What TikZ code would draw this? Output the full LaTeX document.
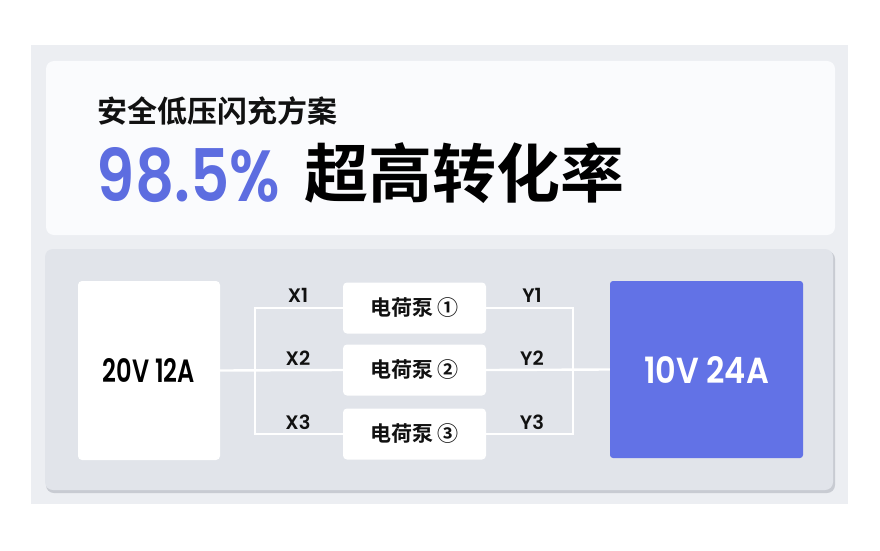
\documentclass[tikz,border=0pt]{standalone}
\usepackage{fontspec}
\setmainfont{Poppins}
\newfontfamily\cjk{Noto Sans CJK SC}[BoldFont={Noto Sans CJK SC Bold}]
\newfontfamily\popm{Poppins Medium}
\newfontfamily\popsb{Poppins SemiBold}
\definecolor{outerbg}{HTML}{ECEEF2}
\definecolor{cardbg}{HTML}{FAFBFD}
\definecolor{panelbg}{HTML}{E1E4EA}
\definecolor{panelsh}{HTML}{C8CBD2}
\definecolor{accent}{HTML}{6272E6}
\definecolor{accenttxt}{HTML}{5D6DE0}
\definecolor{ink}{HTML}{111111}
\tikzset{
  whitebox/.style={fill=white, rounded corners=4pt, draw=none, inner sep=0pt},
  pumpbox/.style={whitebox, minimum width=143pt, minimum height=51pt, font={\cjk\bfseries\fontsize{21}{22}\selectfont}, text=ink},
  wire/.style={draw=white, line width=2.4pt},
  lbl/.style={inner sep=0pt, text=ink, font={\popsb\fontsize{19.5}{20}\selectfont}}
}
\begin{document}
\begin{tikzpicture}[x=1pt,y=-1pt]
\useasboundingbox (0,0) rectangle (880,551);
\fill[white] (0,0) rectangle (880,551);
% outer grey
\fill[outerbg] (31,45) rectangle (848,504);
% top card
\fill[cardbg, rounded corners=8pt] (46,61) rectangle (835,235);
% bottom panel with shadow
\fill[panelsh, rounded corners=8pt] (46,251) rectangle (835,493);
\fill[panelbg, rounded corners=8pt] (45,249) rectangle (833,490);

% heading texts
\node[anchor=base west, inner sep=0pt, text=ink, font={\cjk\bfseries\fontsize{30}{32}\selectfont}] (sub) at (97,122) {安全低压闪充方案};
\node[inner sep=0pt, text=accenttxt] (pct) at (188.5,175) {\resizebox{183pt}{54pt}{\popsb 98.5\%}};
\node[anchor=base west, inner sep=0pt, text=black, font={\cjk\bfseries\fontsize{64}{66}\selectfont}] (hl) at (304,197) {超高转化率};

% boxes
\node[whitebox, minimum width=142pt, minimum height=179pt] (src) at (149,370.5) {\resizebox{92pt}{24pt}{\popsb 20V 12A}};
\node[fill=accent, rounded corners=3pt, inner sep=0pt, minimum width=193pt, minimum height=177pt, text=white] (dst) at (706.5,369.5) {\resizebox{125pt}{27pt}{\popsb 10V 24A}};
\node[pumpbox] (p1) at (414.5,308) {电荷泵 ①};
\node[pumpbox] (p2) at (414.5,370) {电荷泵 ②};
\node[pumpbox] (p3) at (414.5,434) {电荷泵 ③};

% wires
\coordinate (L1) at (255,308);
\coordinate (L3) at (255,434);
\coordinate (R1) at (573,308);
\coordinate (R3) at (573,434);
\draw[wire] (src.east) -- (p2.west);
\draw[wire] (p2.east) -- (dst.west);
\draw[wire] (p1.west) -- (L1) -- (L3) -- (p3.west);
\draw[wire] (p1.east) -- (R1) -- (R3) -- (p3.east);

% labels
\node[lbl] (x1) at (298,295) {X1};
\node[lbl] (x2) at (298,358) {X2};
\node[lbl] (x3) at (298,422) {X3};
\node[lbl] (y1) at (532,295) {Y1};
\node[lbl] (y2) at (532,358) {Y2};
\node[lbl] (y3) at (532,422) {Y3};
\end{tikzpicture}
\end{document}
